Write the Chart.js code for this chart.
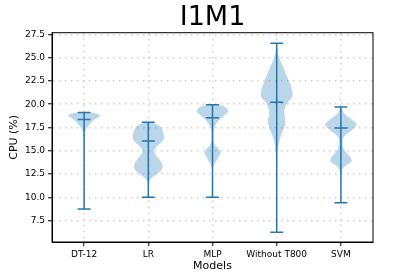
<!DOCTYPE html>
<html><head><meta charset="utf-8">
<script src="https://cdn.jsdelivr.net/npm/chart.js@4/dist/chart.umd.min.js"></script>
<style>html,body{margin:0;padding:0;background:#fff}</style>
</head><body>
<canvas id="c" width="415" height="277"></canvas>
<script>
const models = ['DT-12', 'LR', 'MLP', 'Without T800', 'SVM'];
const minVals = [8.75, 10.0, 10.0, 6.25, 9.42];
const maxVals = [19.12, 18.05, 19.94, 26.55, 19.7];
const meanVals = [18.35, 16.05, 18.55, 20.2, 17.45];
const yTicks = [7.5, 10, 12.5, 15, 17.5, 20, 22.5, 25, 27.5];

// violin outlines: CPU level and half width (category units), top to bottom
const violinLevels = [
  [19.12, 18.95, 18.8, 18.6, 18.4, 18.1, 17.8, 17.5, 17.2, 16.9, 16.5, 16.2],
  [18.05, 17.9, 17.6, 17.2, 16.8, 16.4, 16.0, 15.6, 15.2, 14.9, 14.6, 14.2, 13.7, 13.2, 12.8, 12.4, 12.0, 11.6, 11.2],
  [19.94, 19.7, 19.4, 19.2, 18.9, 18.6, 18.2, 17.8, 17.4, 17.0, 16.5, 16.0, 15.6, 15.3, 15.0, 14.7, 14.4, 14.0, 13.6, 13.2, 12.8],
  [26.55, 25.5, 25.0, 24.5, 24.0, 23.5, 23.0, 22.5, 22.0, 21.5, 21.0, 20.6, 20.2, 19.8, 19.4, 19.0, 18.6, 18.2, 17.8, 17.4, 17.0, 16.5, 16.0, 15.5, 15.0, 14.0, 12.0, 6.25],
  [19.7, 19.3, 19.0, 18.7, 18.35, 18.0, 17.8, 17.5, 17.2, 16.9, 16.6, 16.3, 16.0, 15.6, 15.1, 14.7, 14.3, 13.9, 13.6, 13.3, 13.0, 12.6, 12.2]
];
const violinWidths = [
  [0.12, 0.22, 0.25, 0.22, 0.17, 0.12, 0.08, 0.05, 0.025, 0.01, 0.004, 0],
  [0.05, 0.12, 0.19, 0.22, 0.24, 0.25, 0.22, 0.15, 0.1, 0.09, 0.11, 0.16, 0.21, 0.225, 0.19, 0.11, 0.04, 0.01, 0],
  [0.1, 0.2, 0.24, 0.25, 0.2, 0.15, 0.09, 0.05, 0.025, 0.015, 0.012, 0.02, 0.04, 0.08, 0.12, 0.13, 0.1, 0.07, 0.03, 0.01, 0],
  [0, 0.02, 0.04, 0.07, 0.1, 0.13, 0.16, 0.19, 0.22, 0.24, 0.25, 0.23, 0.17, 0.14, 0.12, 0.12, 0.13, 0.14, 0.13, 0.11, 0.09, 0.06, 0.04, 0.025, 0.015, 0.008, 0.003, 0],
  [0.01, 0.03, 0.05, 0.1, 0.17, 0.23, 0.25, 0.21, 0.17, 0.11, 0.06, 0.03, 0.025, 0.03, 0.05, 0.1, 0.15, 0.17, 0.12, 0.06, 0.02, 0.005, 0]
];

const blue = '#1f77b4';
const capHalf = 0.1;
const datasets = [];
models.forEach((m, i) => {
  const c = i + 1;
  const lv = violinLevels[i], w = violinWidths[i];
  const right = lv.map((y, k) => ({x: c + w[k], y}));
  const left = lv.map((y, k) => ({x: c - w[k], y})).reverse();
  datasets.push({
    label: m + ' body', data: [...right, ...left], showLine: true, fill: 'shape',
    backgroundColor: 'rgba(31,119,180,0.3)', borderColor: 'rgba(0,0,0,0)', borderWidth: 0,
    pointRadius: 0, order: 2
  });
  const lo = minVals[i], hi = maxVals[i], mu = meanVals[i];
  datasets.push({
    label: m, showLine: true, borderColor: blue, borderWidth: 1.5, pointRadius: 0, order: 1,
    data: [
      {x: c, y: lo}, {x: c, y: hi}, {x: c, y: null},
      {x: c - capHalf, y: hi}, {x: c + capHalf, y: hi}, {x: c, y: null},
      {x: c - capHalf, y: lo}, {x: c + capHalf, y: lo}, {x: c, y: null},
      {x: c - capHalf, y: mu}, {x: c + capHalf, y: mu}
    ]
  });
});

const frame = {
  id: 'frame',
  afterDatasetsDraw(chart){
    const {ctx, chartArea: a} = chart;
    ctx.save();
    ctx.strokeStyle = '#000';
    ctx.lineWidth = 1;
    ctx.strokeRect(a.left, a.top, a.right - a.left, a.bottom - a.top);
    ctx.restore();
  }
};

const font = {family: 'DejaVu Sans', size: 9};
const grid = {color: '#cfcfcf', lineWidth: 1.5, tickColor: '#000', tickLength: 4, tickWidth: 1};
const border = {color: '#000', width: 1, dash: [1.5, 4.5]};

new Chart(document.getElementById('c'), {
  type: 'scatter',
  data: {datasets},
  plugins: [frame],
  options: {
    responsive: false, animation: false,
    layout: {padding: {left: 0, right: 42, top: 0, bottom: 0}},
    plugins: {
      legend: {display: false}, tooltip: {enabled: false},
      title: {display: true, text: 'I1M1', fullSize: false, color: '#000',
        font: {family: 'DejaVu Sans', size: 27, weight: 'normal', lineHeight: 1.1}, padding: {top: 3, bottom: 0}}
    },
    scales: {
      x: {
        type: 'linear', min: 0.5, max: 5.5,
        afterBuildTicks: s => { s.ticks = models.map((_, i) => ({value: i + 1})); },
        afterFit: s => { s.height = 35; },
        ticks: {font, color: '#000', padding: 3, maxRotation: 0, autoSkip: false, callback: v => models[v - 1]},
        grid, border,
        title: {display: true, text: 'Models', color: '#000', font: {family: 'DejaVu Sans', size: 11}, padding: {top: 0, bottom: 4}}
      },
      y: {
        min: 5.2, max: 27.68,
        afterBuildTicks: s => { s.ticks = yTicks.map(v => ({value: v})); },
        afterFit: s => { s.width = 52; },
        ticks: {font, color: '#000', padding: 3, callback: v => v.toFixed(1)},
        grid, border,
        title: {display: true, text: 'CPU (%)', color: '#000', font: {family: 'DejaVu Sans', size: 11}, padding: {top: 8, bottom: 0}}
      }
    }
  }
});
</script>
</body></html>
